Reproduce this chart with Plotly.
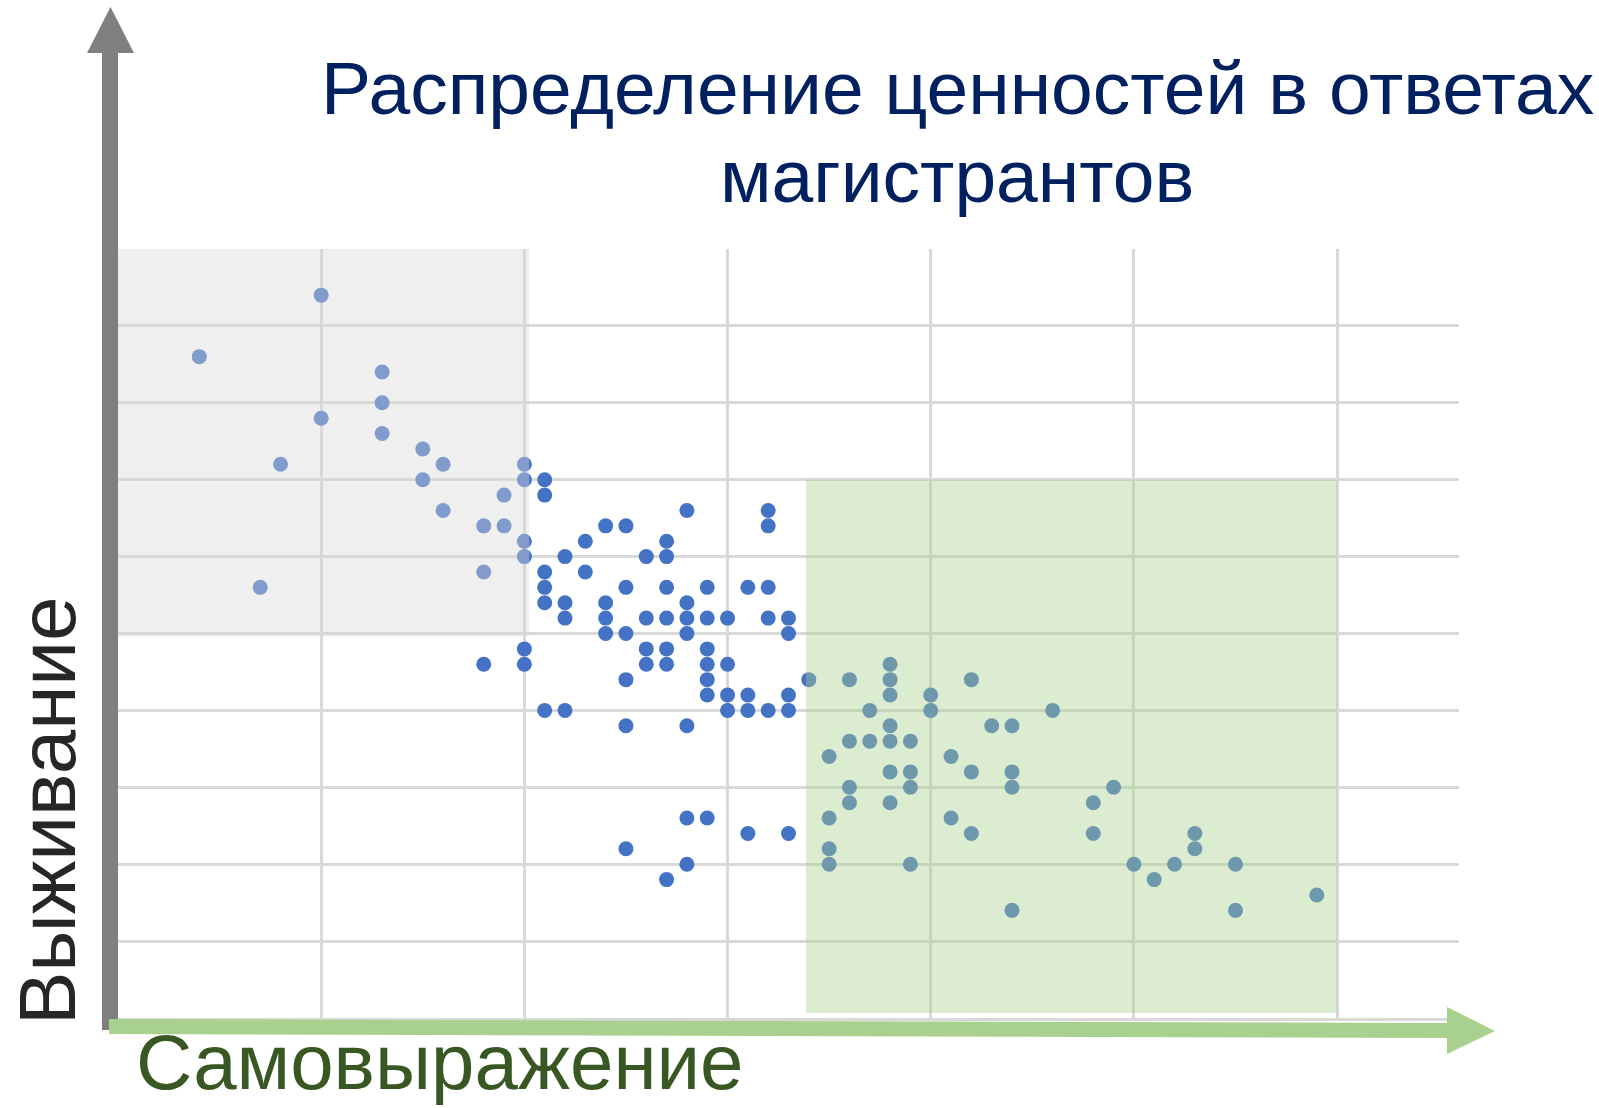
import plotly.graph_objects as go

# ---- data (x: самовыражение score, y: выживание score) ----
group_a_x = [4, 10, 13, 13, 10, 13, 15, 16, 8, 20, 15, 20, 19, 16, 18, 19, 20, 20, 18, 7]
group_a_y = [43, 47, 42, 40, 39, 38, 37, 36, 36, 36, 35, 35, 34, 33, 32, 32, 31, 30, 29, 28]

group_b_x = [21, 21, 22, 21, 21, 21, 22, 22, 20, 20, 18,
             23, 23, 24, 25, 24, 24, 24, 25, 25, 25,
             26, 26, 26, 26, 27, 27, 27, 27, 27, 27,
             28, 28, 28, 28, 29, 29, 29, 29, 29, 29,
             30, 30, 30, 30, 31, 31, 31, 32, 32, 32, 32, 32,
             33, 33, 33, 33, 21, 22,
             25, 28, 28, 29, 31, 33, 25, 28, 27]
group_b_y = [35, 34, 30, 29, 28, 27, 27, 26, 24, 23, 23,
             31, 29, 32, 32, 27, 26, 25, 28, 25, 22,
             30, 26, 24, 23, 31, 30, 28, 26, 24, 23,
             33, 27, 26, 25, 28, 26, 24, 23, 22, 21,
             26, 23, 21, 20, 28, 21, 20, 33, 32, 28, 26, 20,
             26, 25, 21, 20, 20, 20,
             19, 19, 13, 13, 12, 12, 11, 10, 9]

group_c_x = [34, 36, 38, 38, 38, 42, 40, 40, 37, 46, 38, 38, 36, 37, 39, 43, 44,
             35, 41, 38, 39, 39, 42, 44, 44, 36, 36, 38, 49, 48, 35, 41, 42, 48,
             53, 53, 35, 35, 39, 50, 51, 52, 55, 44, 55, 59]
group_c_y = [22, 22, 23, 22, 21, 22, 21, 20, 20, 20, 19, 18, 18, 18, 18, 19, 19,
             17, 17, 16, 16, 15, 16, 16, 15, 15, 14, 14, 15, 14, 13, 13, 12, 12,
             12, 11, 11, 10, 10, 10, 9, 10, 10, 7, 7, 8]

x_range = [0, 66]
y_range = [0, 50]
grey_zone = dict(x0=0, x1=20.24, y0=24.8, y1=50)
green_zone = dict(x0=33.86, x1=60, y0=0.33, y1=35)

title_line1 = "Распределение ценностей в ответах"
title_line2 = "магистрантов"
x_label = "Самовыражение"
y_label = "Выживание"

# ---- layout geometry (body margin removed -> page pixels == figure pixels) ----
W, H = 1599, 1108
ML, MR, MT, MB = 118, 140, 249, 90
PW = W - ML - MR
PH = H - MT - MB


def px(x):
    return (x - ML) / PW


def py(y):
    return (H - MB - y) / PH


def poly(points):
    return "M " + " L ".join(f"{px(a):.5f},{py(b):.5f}" for a, b in points) + " Z"


fig = go.Figure()
dot_color = "#4472c4"
for xs, ys in [(group_a_x, group_a_y), (group_b_x, group_b_y), (group_c_x, group_c_y)]:
    fig.add_trace(go.Scatter(x=xs, y=ys, mode="markers",
                             marker=dict(size=15, color=dot_color, line=dict(width=0)),
                             showlegend=False, hoverinfo="skip"))

shapes = [
    dict(type="rect", xref="x", yref="y", layer="above", line=dict(width=0),
         fillcolor="rgba(216,216,216,0.41)", **grey_zone),
    dict(type="rect", xref="x", yref="y", layer="above", line=dict(width=0),
         fillcolor="rgba(169,209,142,0.41)", **green_zone),
    # vertical grey arrow
    dict(type="path", xref="paper", yref="paper", layer="above", line=dict(width=0),
         fillcolor="#7f7f7f",
         path=poly([(102, 1030), (102, 53), (87, 53), (110.5, 7), (134, 53), (118, 53), (118, 1030)])),
    # horizontal green arrow
    dict(type="path", xref="paper", yref="paper", layer="above", line=dict(width=0),
         fillcolor="#a9d18e",
         path=poly([(109, 1019), (1447, 1023), (1447, 1007), (1495, 1031), (1447, 1054),
                    (1447, 1038), (109, 1034)])),
]

font_family = "Liberation Sans, Arial, sans-serif"
annotations = [
    dict(text=title_line1, xref="paper", yref="paper", x=px(957), y=py(88),
         xanchor="center", yanchor="middle", showarrow=False,
         font=dict(family=font_family, size=75, color="#002060")),
    dict(text=title_line2, xref="paper", yref="paper", x=px(957), y=py(176),
         xanchor="center", yanchor="middle", showarrow=False,
         font=dict(family=font_family, size=75, color="#002060")),
    dict(text=x_label, xref="paper", yref="paper", x=px(134), y=py(1062),
         xanchor="left", yanchor="middle", showarrow=False,
         font=dict(family=font_family, size=78, color="#385723")),
    dict(text=y_label, xref="paper", yref="paper", x=px(47), y=py(811),
         xanchor="center", yanchor="middle", showarrow=False, textangle=-90,
         font=dict(family=font_family, size=80, color="#262626")),
]

fig.update_layout(
    width=W, height=H,
    margin=dict(l=ML, r=MR, t=MT, b=MB, pad=0),
    paper_bgcolor="white", plot_bgcolor="white",
    shapes=shapes, annotations=annotations,
    xaxis=dict(range=x_range, dtick=10, tick0=0, showgrid=True, gridcolor="#d9d9d9",
               gridwidth=2.5, zeroline=False, showticklabels=False, ticks="",
               showline=True, linecolor="#d9d9d9", linewidth=2.5, fixedrange=True),
    yaxis=dict(range=y_range, dtick=5, tick0=0, showgrid=True, gridcolor="#d9d9d9",
               gridwidth=2.5, zeroline=False, showticklabels=False, ticks="",
               showline=False, fixedrange=True),
)

fig.write_html("out.html", config={"displayModeBar": False},
               post_script="document.body.style.margin='0px';")
